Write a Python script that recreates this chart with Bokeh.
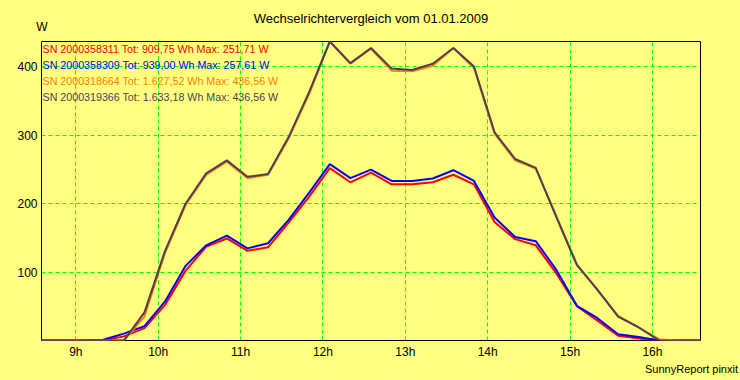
from bokeh.plotting import figure
from bokeh.models import Range1d, FixedTicker, Label, LinearAxis
from bokeh.embed import file_html
from bokeh.resources import INLINE

# ---- data ----
times = ["08:35", "08:50", "09:05", "09:20", "09:35", "09:50", "10:05", "10:20",
         "10:35", "10:50", "11:05", "11:20", "11:35", "11:50", "12:05", "12:20",
         "12:35", "12:50", "13:05", "13:20", "13:35", "13:50", "14:05", "14:20",
         "14:35", "14:50", "15:05", "15:20", "15:35", "15:50", "16:05", "16:20", "16:35"]

sn_2000358311 = [0, 0, 0, 0, 6, 18, 52, 102, 137, 149, 131, 136, 172, 210, 251.71, 231,
                 245, 228, 228, 231, 242, 228, 173, 148, 139, 98, 50, 29, 7, 3, 0, 0, 0]
sn_2000358309 = [0, 0, 0, 1, 10, 21, 57, 109, 139, 153, 134.5, 142, 176, 216, 257.61, 237,
                 249.6, 233, 233, 236.5, 248.6, 233, 179.7, 151, 145, 103, 50.6, 32.6, 9, 5, 0, 0, 0]
sn_2000318664 = [0, 0, 0, 0, 0, 35, 128, 198, 242, 261, 237, 242, 295, 360, 436.56, 404,
                 426, 394, 393, 401, 427, 398, 302, 263, 251, 182, 111, 74, 36, 19, 1.5, 0, 0]
sn_2000319366 = [0, 0, 0, 0, 0, 41, 131, 200, 244, 263, 239, 243, 297, 363, 436.56, 405,
                 427, 397, 395, 404, 427, 400, 304, 265, 252, 180, 110, 74, 35, 19, 0, 0, 0]

series = [sn_2000358311, sn_2000358309, sn_2000318664, sn_2000319366]
series_colors = ["#FF0000", "#0000FF", "#FF8000", "#503C58"]
legend_texts = [
    "SN 2000358311 Tot: 909,75 Wh Max: 251,71 W",
    "SN 2000358309 Tot: 939,00 Wh Max: 257,61 W",
    "SN 2000318664 Tot: 1.627,52 Wh Max: 436,56 W",
    "SN 2000319366 Tot: 1.633,18 Wh Max: 436,56 W",
]
x_ticks = [9, 10, 11, 12, 13, 14, 15, 16]
x_tick_labels = ["9h", "10h", "11h", "12h", "13h", "14h", "15h", "16h"]
y_ticks = [100, 200, 300, 400]
y_max = 436.56

title_text = "Wechselrichtervergleich vom 01.01.2009"
unit_text = "W"
footer_text = "SunnyReport pinxit"

# ---- layout ----
BG = "#FFFF80"
FONT = "Liberation Sans"
FW, FH = 659, 299
ML, MR, MT, MB = 41, 40, 41, 40


def to_hours(t):
    hh, mm = t.split(":")
    return int(hh) + int(mm) / 60.0


xs = [to_hours(t) for t in times]
X0, X1 = xs[0], xs[-1]


def dx(px):
    return px * (X1 - X0) / FW


def dy(px):
    return px * y_max / FH


p = figure(frame_width=FW, frame_height=FH, title=None,
           x_range=Range1d(X0, X1), y_range=Range1d(0, y_max),
           output_backend="svg", toolbar_location=None,
           min_border_left=ML, min_border_right=MR,
           min_border_top=MT, min_border_bottom=MB,
           background_fill_color=BG, border_fill_color=BG,
           outline_line_color="black", outline_line_width=1)

p.xaxis.ticker = FixedTicker(ticks=x_ticks)
p.xaxis.major_label_overrides = {t: lab for t, lab in zip(x_ticks, x_tick_labels)}
p.yaxis.ticker = FixedTicker(ticks=y_ticks)


def style_axis(ax, size):
    ax.axis_line_color = None
    ax.major_tick_line_color = None
    ax.minor_tick_line_color = None
    ax.major_tick_out = 0
    ax.major_tick_in = 0
    ax.major_label_text_font = FONT
    ax.major_label_text_font_size = size
    ax.major_label_text_color = "black"


style_axis(p.xaxis[0], "12px")
style_axis(p.yaxis[0], "12px")
p.xaxis.major_label_standoff = 4
p.yaxis.major_label_standoff = 4

# top axis: unit "W" above the value axis, chart title as its label
w_pos = X0 + dx(0.3)
top_axis = LinearAxis(ticker=FixedTicker(ticks=[w_pos]),
                      major_label_overrides={w_pos: unit_text})
style_axis(top_axis, "12px")
top_axis.major_label_standoff = 8
top_axis.axis_label = title_text
top_axis.axis_label_text_font = FONT
top_axis.axis_label_text_font_size = "13px"
top_axis.axis_label_text_font_style = "normal"
top_axis.axis_label_text_color = "black"
top_axis.axis_label_standoff = -9
p.add_layout(top_axis, "above")

# bottom footer axis: "SunnyReport pinxit"
foot_pos = X0 + dx(650)
foot_axis = LinearAxis(ticker=FixedTicker(ticks=[foot_pos]),
                       major_label_overrides={foot_pos: footer_text})
style_axis(foot_axis, "11px")
foot_axis.major_label_standoff = 1
p.add_layout(foot_axis, "below")

for g in (p.xgrid[0], p.ygrid[0]):
    g.grid_line_color = "#00FF00"
    g.grid_line_dash = "4 3"
    g.grid_line_width = 1

for vals, col in zip(series, series_colors):
    p.line(xs, vals, line_color=col, line_width=2)

# legend texts
for i, (txt, col) in enumerate(zip(legend_texts, series_colors)):
    p.add_layout(Label(x=X0 + dx(1), y=y_max - dy(7.3 + 16.1 * i), text=txt,
                       text_font=FONT, text_font_size="10.7px", text_color=col,
                       text_align="left", text_baseline="middle"))

html = file_html(p, INLINE)
html = html.replace("<head>", "<head><style>html, body { background: #FFFF80; }</style>", 1)
open("out.html", "w").write(html)
